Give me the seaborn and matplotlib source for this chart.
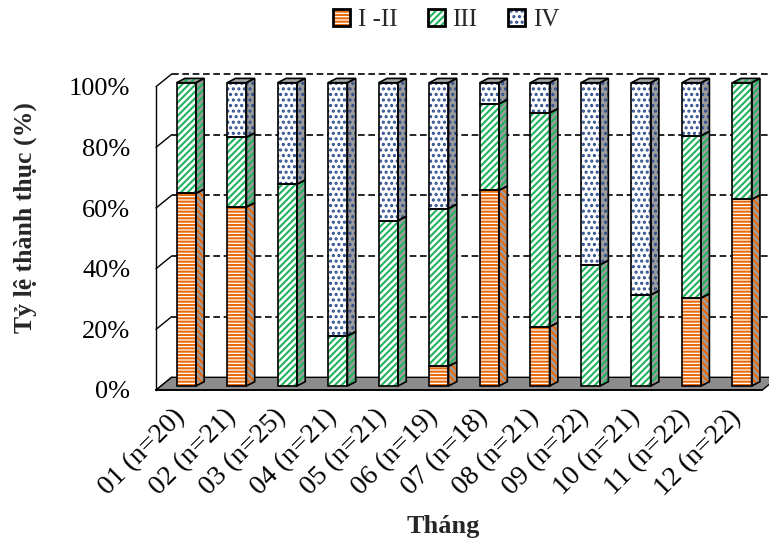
import numpy as np
import pandas as pd
import matplotlib
matplotlib.use("Agg")
import matplotlib.pyplot as plt
import matplotlib.transforms as mtransforms
from matplotlib.patches import Polygon, Rectangle, Patch
import seaborn as sns

# ---------------- data ----------------
categories = ["01 (n=20)", "02 (n=21)", "03 (n=25)", "04 (n=21)", "05 (n=21)", "06 (n=19)",
              "07 (n=18)", "08 (n=21)", "09 (n=22)", "10 (n=21)", "11 (n=22)", "12 (n=22)"]
stage_I_II = [63.5, 59.0, 0.0, 0.0, 0.0, 6.5, 64.5, 19.5, 0.0, 0.0, 29.0, 61.5]
stage_III = [36.5, 23.0, 66.5, 16.5, 54.5, 52.0, 28.5, 70.5, 40.0, 30.0, 53.5, 38.5]
stage_IV = [0.0, 18.0, 33.5, 83.5, 45.5, 41.5, 7.0, 10.0, 60.0, 70.0, 17.5, 0.0]
series_labels = ["I -II", "III", "IV"]
y_ticks = [0, 20, 40, 60, 80, 100]
y_tick_labels = ["0%", "20%", "40%", "60%", "80%", "100%"]
x_title = "Tháng"
y_title = "Tỷ lệ thành thục (%)"

# ---------------- style ----------------
sns.set_style("white")
plt.rcParams["font.family"] = ["Liberation Serif", "DejaVu Serif"]
plt.rcParams["hatch.linewidth"] = 1.5

ORANGE = "#E86A0A"
GREEN = "#22B35E"
BLUE = "#2F4F8F"
SIDE = "#9C9C9C"
styles = [
    dict(color=ORANGE, hatch="-----", side_hatch="\\\\\\\\\\"),
    dict(color=GREEN, hatch="/////", side_hatch="/////"),
    dict(color=BLUE, hatch="...", side_hatch="..."),
]

W, H = 769, 541
fig = plt.figure(figsize=(W / 100, H / 100), dpi=100)
px_left, px_right, px_y0, px_y100 = 156.0, 762.3, 390.0, 86.7
ax = fig.add_axes([px_left / W, (H - px_y0) / H, (px_right - px_left) / W, (px_y0 - px_y100) / H])
ux = (px_right - px_left) / len(categories)   # px per category
uy = (px_y0 - px_y100) / 100.0                # px per percent

def dxy(dx_px, dy_px):
    return dx_px / ux, dy_px / uy

# back wall offset / bar depth
bwx, bwy = dxy(15.7, 12.7)
ddx, ddy = dxy(8.3, 4.3)
T = ax.transData + mtransforms.ScaledTranslation(5 / 100, 4 / 100, fig.dpi_scale_trans)

ax.set_xlim(-0.5, len(categories) - 0.5)
ax.set_ylim(0, 100)

# back wall dashed gridlines + left wall diagonals
for v in y_ticks:
    if v > 0:
        ax.plot([-0.5 + bwx, len(categories) + 1], [v + bwy, v + bwy], color="black",
                lw=1.2, ls=(0, (4, 2.2)), clip_on=False, zorder=1)
    ax.plot([-0.5, -0.5 + bwx], [v, v + bwy], color="black", lw=1.0, clip_on=False, zorder=1)

# floor
floor = Polygon([(-0.5, 0), (len(categories) - 0.5, 0),
                 (len(categories) - 0.5 + bwx, bwy), (-0.5 + bwx, bwy)],
                closed=True, facecolor="#8C8C8C", edgecolor="black", lw=1.0,
                clip_on=False, zorder=2)
ax.add_patch(floor)

# ---------------- bars (stacked via cumulative layers) ----------------
vals = [np.array(stage_I_II), np.array(stage_III), np.array(stage_IV)]
cums = np.cumsum(vals, axis=0)
geo = {}
for s in [2, 1, 0]:
    n0 = len(ax.patches)
    sns.barplot(x=categories, y=cums[s], color="white", saturation=1, width=0.38,
                errorbar=None, ax=ax, edgecolor=styles[s]["color"], linewidth=0,
                hatch=styles[s]["hatch"], zorder=3)
    for i, p in enumerate(ax.patches[n0:]):
        p.set_transform(T)
        p.set_clip_on(False)
        geo[i] = (p.get_x(), p.get_width())

for i in range(len(categories)):
    x, w = geo[i]
    for s in range(3):
        v = vals[s][i]
        if v <= 0:
            continue
        b = cums[s][i] - v
        t = cums[s][i]
        ax.add_patch(Rectangle((x, b), w, t - b, fill=False, ec="black", lw=1.2,
                               transform=T, clip_on=False, zorder=4))
        side = [(x + w, b), (x + w + ddx, b + ddy), (x + w + ddx, t + ddy), (x + w, t)]
        ax.add_patch(Polygon(side, closed=True, facecolor=SIDE, edgecolor=styles[s]["color"],
                             lw=0, hatch=styles[s]["side_hatch"], transform=T,
                             clip_on=False, zorder=3))
        ax.add_patch(Polygon(side, closed=True, fill=False, edgecolor="black", lw=1.2,
                             transform=T, clip_on=False, zorder=4))
    top_s = max(s for s in range(3) if vals[s][i] > 0)
    t = cums[2][i]
    top = [(x, t), (x + w, t), (x + w + ddx, t + ddy), (x + ddx, t + ddy)]
    ax.add_patch(Polygon(top, closed=True, facecolor="#A8A8A8", edgecolor=styles[top_s]["color"],
                         lw=0, hatch=styles[top_s]["side_hatch"], transform=T,
                         clip_on=False, zorder=3))
    ax.add_patch(Polygon(top, closed=True, fill=False, edgecolor="black", lw=1.2,
                         transform=T, clip_on=False, zorder=4))

# ---------------- axes ----------------
for sp in ["top", "right"]:
    ax.spines[sp].set_visible(False)
ax.spines["left"].set_color("black")
ax.spines["left"].set_linewidth(1.0)
ax.spines["bottom"].set_color("black")
ax.spines["bottom"].set_linewidth(1.3)
ax.spines["bottom"].set_zorder(5)

ax.set_yticks(y_ticks)
ax.set_yticklabels(y_tick_labels)
ax.tick_params(axis="y", direction="out", length=4.5, width=1.0, pad=14, labelsize=19, colors="black")

ax.set_xticks(np.arange(len(categories)))
ax.set_xticklabels(categories, rotation=45, ha="right", va="center", rotation_mode="anchor")
ax.set_xticks(np.arange(len(categories) + 1) - 0.5, minor=True)
ax.tick_params(axis="x", which="major", length=0, pad=17, labelsize=20, colors="black")
ax.tick_params(axis="x", which="minor", direction="out", length=6, width=1.0, color="black")
ax.set_xlabel("")
ax.set_ylabel("")
ax.grid(False)

fig.text(25 / W, 1 - 218 / H, y_title, rotation=90, ha="center", va="center",
         fontsize=18.5, fontweight="bold")
fig.text(443 / W, 1 - 533 / H, x_title, ha="center", va="baseline",
         fontsize=19, fontweight="bold")

# legend
handles = []
for s in range(3):
    fillp = Patch(facecolor="white", edgecolor=styles[s]["color"], lw=0, hatch=styles[s]["hatch"])
    outl = Patch(fill=False, edgecolor="black", lw=2.0)
    handles.append((fillp, outl))
fig.legend(handles, series_labels, loc="center", bbox_to_anchor=(446 / W, 1 - 20 / H),
           ncol=3, frameon=False, fontsize=18, handlelength=0.7, handleheight=0.7,
           handletextpad=0.3, columnspacing=1.2)

fig.savefig("out.png", dpi=100)
